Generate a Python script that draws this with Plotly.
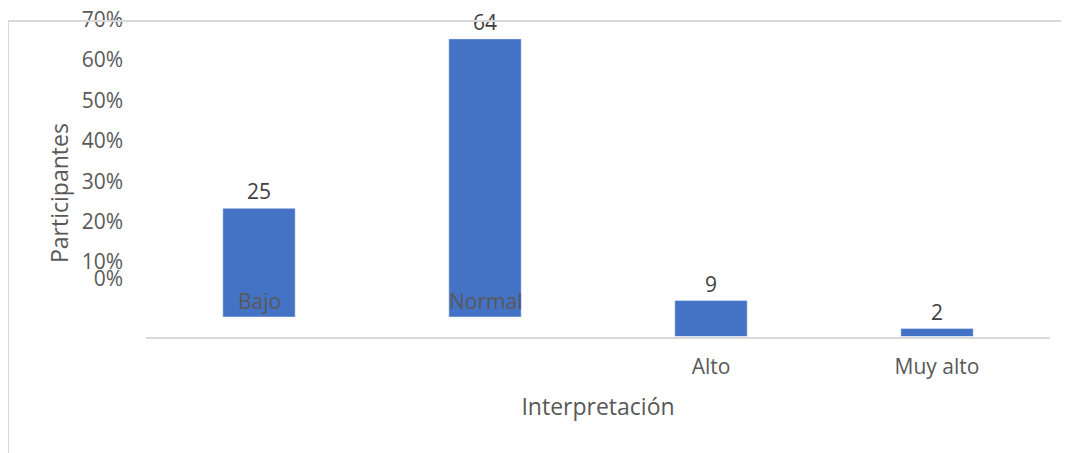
import plotly.graph_objects as go

categories = ["Bajo", "Normal", "Alto", "Muy alto"]
participants = [25, 64, 9, 2]
x_tick_labels = ["", "", "Alto", "Muy alto"]
y_tick_vals = [0.06, 0.1, 0.2, 0.3, 0.4, 0.5, 0.6, 0.7]
y_tick_labels = ["0%", "10%", "20%", "30%", "40%", "50%", "60%", "70%"]

W, H = 1069, 453
OFF = 8  # page body margin
BAR = "#4472C4"
GREY = "#595959"
DARK = "#404040"
FONT = "Open Sans"
LINE = "#d9d9d9"


def px(x):
    return (x - OFF) / W


def py(y):
    return 1 - (y - OFF) / H


upper = [v if i < 2 else None for i, v in enumerate(participants)]
lower = [v if i >= 2 else None for i, v in enumerate(participants)]

fig = go.Figure()
fig.add_trace(go.Bar(x=categories, y=upper, yaxis="y", marker_color=BAR, width=0.32,
                     texttemplate="%{y}", textposition="outside", cliponaxis=False,
                     textfont=dict(size=21, color=DARK, family=FONT)))
fig.add_trace(go.Bar(x=categories, y=lower, yaxis="y2", marker_color=BAR, width=0.32,
                     texttemplate="%{y}", textposition="outside", cliponaxis=False,
                     textfont=dict(size=21, color=DARK, family=FONT)))
# invisible trace that carries the percent tick axis
fig.add_trace(go.Scatter(x=[categories[0]], y=[None], yaxis="y3", showlegend=False,
                         hoverinfo="skip"))

annotations = []
for c in categories[:2]:
    annotations.append(dict(x=c, y=0, xref="x", yref="y", yanchor="bottom",
                            xanchor="center", text=c, showarrow=False,
                            font=dict(size=21, color=GREY, family=FONT)))
annotations.append(dict(x=px(59), y=py(193), xref="paper", yref="paper",
                        xanchor="center", yanchor="middle",
                        text="Participantes", textangle=-90, showarrow=False,
                        font=dict(size=23, color=GREY, family=FONT)))

fig.update_layout(
    width=W, height=H, margin=dict(l=0, r=0, t=0, b=0, autoexpand=False),
    paper_bgcolor="white", plot_bgcolor="rgba(0,0,0,0)",
    barmode="overlay", showlegend=False,
    font=dict(family=FONT, color=GREY),
    xaxis=dict(domain=[px(146), px(1050)], anchor="y2", type="category",
               range=[-0.5, 3.5], tickvals=categories, ticktext=x_tick_labels,
               showline=True, linecolor=LINE, linewidth=2, showgrid=False,
               ticks="", ticklabelstandoff=10,
               tickfont=dict(size=21, color=GREY, family=FONT),
               title=dict(text="Interpretación", standoff=20,
                          font=dict(size=23, color=GREY, family=FONT))),
    yaxis=dict(domain=[py(317), py(15)], range=[0, 69.5], visible=False),
    yaxis2=dict(domain=[py(336.5), py(16.5)], range=[0, 80], visible=False),
    yaxis3=dict(domain=[py(302.5), py(19.5)], range=[0, 0.7], anchor="free",
                position=px(123), tickvals=y_tick_vals, ticktext=y_tick_labels,
                ticklabeloverflow="allow",
                showgrid=False, zeroline=False, showline=False, ticks="",
                tickfont=dict(size=21, color=GREY, family=FONT)),
    annotations=annotations,
    shapes=[dict(type="path", xref="paper", yref="paper",
                 path=f"M {px(8)},{py(470)} L {px(8)},{py(21)} L {px(1090)},{py(21)}",
                 line=dict(color=LINE, width=2))],
)

fig.write_html("out.html")
